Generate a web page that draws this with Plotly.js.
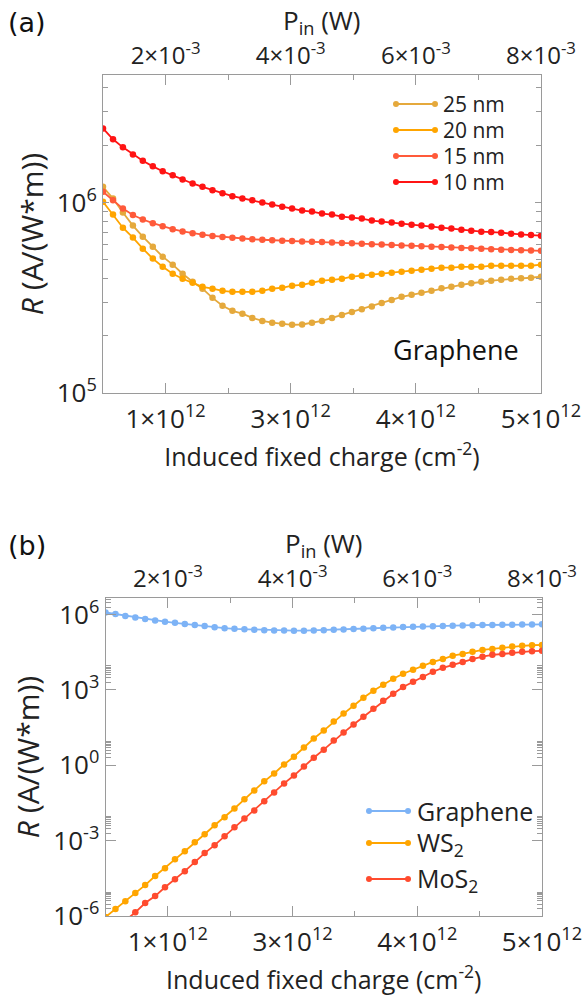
<!DOCTYPE html>
<html><head><meta charset="utf-8">
<script src="https://cdn.plot.ly/plotly-3.0.1.min.js"></script>
<style>html,body{margin:0;padding:0;background:#fff}#chart{width:583px;height:996px}</style>
</head><body><div id="chart"></div>
<script>
// Induced fixed charge, in units of 1e12 cm^-2
const chargeE12 = [1.500,1.580,1.659,1.739,1.818,1.898,1.977,2.057,2.136,2.216,2.295,2.375,2.455,2.534,2.614,2.693,2.773,2.852,2.932,3.011,3.091,3.170,3.250,3.330,3.409,3.489,3.568,3.648,3.727,3.807,3.886,3.966,4.045,4.125,4.205,4.284,4.364,4.443,4.523,4.602,4.682,4.761,4.841,4.920,5.000];

// Panel (a): graphene responsivity vs thickness
const r25nm = [1.21e6,1.05e6,8.86e5,7.57e5,6.62e5,5.87e5,5.20e5,4.72e5,4.23e5,3.84e5,3.53e5,3.16e5,2.87e5,2.70e5,2.61e5,2.48e5,2.39e5,2.34e5,2.31e5,2.28e5,2.29e5,2.34e5,2.39e5,2.48e5,2.57e5,2.66e5,2.75e5,2.85e5,2.97e5,3.08e5,3.20e5,3.28e5,3.36e5,3.44e5,3.55e5,3.61e5,3.70e5,3.77e5,3.84e5,3.89e5,3.93e5,3.98e5,4.00e5,4.03e5,4.08e5];
const r20nm = [1.01e6,8.65e5,7.38e5,6.55e5,5.73e5,5.08e5,4.60e5,4.23e5,3.98e5,3.79e5,3.61e5,3.53e5,3.44e5,3.40e5,3.40e5,3.40e5,3.44e5,3.53e5,3.57e5,3.66e5,3.70e5,3.79e5,3.89e5,3.93e5,3.98e5,4.08e5,4.13e5,4.18e5,4.23e5,4.28e5,4.33e5,4.39e5,4.44e5,4.49e5,4.55e5,4.55e5,4.60e5,4.60e5,4.60e5,4.66e5,4.66e5,4.66e5,4.66e5,4.66e5,4.72e5];
const r15nm = [1.14e6,1.03e6,9.30e5,8.60e5,8.15e5,7.80e5,7.50e5,7.25e5,7.05e5,6.90e5,6.78e5,6.68e5,6.60e5,6.53e5,6.47e5,6.42e5,6.38e5,6.34e5,6.31e5,6.28e5,6.25e5,6.22e5,6.20e5,6.17e5,6.14e5,6.11e5,6.08e5,6.05e5,6.02e5,5.99e5,5.96e5,5.93e5,5.90e5,5.87e5,5.84e5,5.81e5,5.78e5,5.75e5,5.72e5,5.69e5,5.66e5,5.64e5,5.62e5,5.60e5,5.58e5];
const r10nm = [2.45e6,2.15e6,1.95e6,1.79e6,1.66e6,1.55e6,1.46e6,1.39e6,1.32e6,1.26e6,1.21e6,1.16e6,1.12e6,1.08e6,1.05e6,1.03e6,1.00e6,9.76e5,9.52e5,9.30e5,9.08e5,8.97e5,8.75e5,8.65e5,8.43e5,8.34e5,8.24e5,8.04e5,7.95e5,7.85e5,7.75e5,7.66e5,7.57e5,7.48e5,7.38e5,7.30e5,7.21e5,7.12e5,7.03e5,7.00e5,6.95e5,6.87e5,6.79e5,6.75e5,6.70e5];

// Panel (b): materials
const rGraphene = r25nm;
const rWS2 = [9.1e-7,1.9e-6,3.9e-6,8.2e-6,1.7e-5,3.9e-5,8.0e-5,1.8e-4,3.8e-4,8.7e-4,1.8e-3,4.1e-3,8.5e-3,1.9e-2,4.4e-2,0.10,0.23,0.47,1.08,2.2,5.1,11.6,24,55,114,236,490,930,1.6e3,2.8e3,4.4e3,6.3e3,9.1e3,1.3e4,1.7e4,2.3e4,2.7e4,3.3e4,3.9e4,4.3e4,4.8e4,5.3e4,5.7e4,6.0e4,6.2e4];
const rMoS2 = [1.5e-7,3.0e-7,6.6e-7,1.4e-6,3.3e-6,6.2e-6,1.4e-5,2.9e-5,6.1e-5,1.4e-4,3.2e-4,6.6e-4,1.5e-3,3.4e-3,7.7e-3,1.6e-2,3.7e-2,8.3e-2,0.19,0.39,0.90,2.0,4.2,9.6,20,42,86,180,373,707,1.3e3,2.1e3,3.3e3,5.3e3,7.6e3,1.0e4,1.3e4,1.7e4,2.1e4,2.5e4,2.7e4,3.0e4,3.3e4,3.5e4,3.6e4];

const thicknessNames = ['25 nm','20 nm','15 nm','10 nm'];
const thicknessSeries = [r25nm, r20nm, r15nm, r10nm];
const thicknessColors = ['#E5A93C','#FFA500','#FF5A3A','#FF1414'];
const materialNames = ['Graphene','WS<sub>2</sub>','MoS<sub>2</sub>'];
const materialSeries = [rGraphene, rWS2, rMoS2];
const materialColors = ['#7DB3F6','#FFA500','#FF4B2E'];

const chargeTickVals = [2,3,4,5];
const chargeTickText = ['1×10<sup>12</sup>','3×10<sup>12</sup>','4×10<sup>12</sup>','5×10<sup>12</sup>'];
const powerTickVals = [0.002,0.004,0.006,0.008];
const powerTickText = ['2×10<sup>-3</sup>','4×10<sup>-3</sup>','6×10<sup>-3</sup>','8×10<sup>-3</sup>'];
const aTickVals = [1e5,1e6];
const aTickText = ['10<sup>5</sup>','10<sup>6</sup>'];
const bTickVals = [1e-6,1e-3,1,1e3,1e6];
const bTickText = ['10<sup>-6</sup>','10<sup>-3</sup>','10<sup>0</sup>','10<sup>3</sup>','10<sup>6</sup>'];
const powerTitle = 'P<sub>in</sub> (W)';

const W = 583, H = 996;
const px = v => v / W, py = v => 1 - v / H;
const FONT = 'Open Sans, Noto Sans, sans-serif';
const TXT = '#222';
const AX = '#9a9a9a';
const TICKFS = 26;
const TOPTICKFS = 24;

const aMinor = [];
[1e5,1e6].forEach(d => { for (let k = 2; k <= 9; k++) aMinor.push(k*d); });
const bMinor = [];
[1e-6,1e-3,1,1e3,1e6].forEach(d => { for (let k = 2; k <= 9; k++) bMinor.push(k*d); });

const traces = [];
thicknessSeries.forEach((s, i) => traces.push({
  x: chargeE12, y: s, xaxis: 'x', yaxis: 'y', type: 'scatter', mode: 'lines+markers',
  name: thicknessNames[i], showlegend: false,
  line: {color: thicknessColors[i], width: 1.8}, marker: {color: thicknessColors[i], size: 6.5}
}));
materialSeries.forEach((s, i) => traces.push({
  x: chargeE12, y: s, xaxis: 'x3', yaxis: 'y3', type: 'scatter', mode: 'lines+markers',
  name: materialNames[i], showlegend: false,
  line: {color: materialColors[i], width: 1.8}, marker: {color: materialColors[i], size: 6.5}
}));
// empty traces so the top (P_in) axes get their own subplots
traces.push({x: [], y: [], xaxis: 'x2', yaxis: 'y', type: 'scatter', mode: 'lines', showlegend: false, hoverinfo: 'skip'});
traces.push({x: [], y: [], xaxis: 'x4', yaxis: 'y3', type: 'scatter', mode: 'lines', showlegend: false, hoverinfo: 'skip'});

function xBottom(domain, anchor) {
  return {
    domain, anchor, range: [1.5, 5], type: 'linear',
    tickmode: 'array', tickvals: chargeTickVals, ticktext: chargeTickText,
    ticks: 'inside', ticklen: 10, tickwidth: 1, tickcolor: AX, ticklabelstandoff: 3,
    minor: {tickmode: 'array', tickvals: [2.5,3.5,4.5], ticks: 'inside', ticklen: 5, tickcolor: AX, tickwidth: 1},
    showline: true, linecolor: AX, linewidth: 1, mirror: false, showgrid: false, zeroline: false,
    tickfont: {size: TICKFS, color: TXT, family: FONT}, automargin: false,
    title: {text: 'Induced fixed charge (cm<sup>-2</sup>)', font: {size: 25, color: TXT, family: FONT}, standoff: 9}
  };
}
function xTop(over, anchor) {
  return {
    overlaying: over, anchor, side: 'top', range: [0.001, 0.008], type: 'linear',
    tickmode: 'array', tickvals: powerTickVals, ticktext: powerTickText,
    ticks: 'inside', ticklen: 10, tickwidth: 1, tickcolor: AX,
    minor: {tickmode: 'array', tickvals: [0.003,0.005,0.007], ticks: 'inside', ticklen: 5, tickcolor: AX, tickwidth: 1},
    showline: true, linecolor: AX, linewidth: 1, showgrid: false, zeroline: false,
    tickfont: {size: TOPTICKFS, color: TXT, family: FONT}, automargin: false
  };
}
function yLog(domain, anchor, range, tv, tt, minor, majLen) {
  return {
    domain, anchor, type: 'log', range,
    tickmode: 'array', tickvals: tv, ticktext: tt,
    ticks: 'inside', ticklen: majLen, tickwidth: 1, tickcolor: AX,
    minor: {tickmode: 'array', tickvals: minor, ticks: 'inside', ticklen: 5, tickcolor: AX, tickwidth: 1},
    showline: true, linecolor: AX, linewidth: 1, mirror: 'ticks', showgrid: false, zeroline: false,
    tickfont: {size: TICKFS, color: TXT, family: FONT}, automargin: false,
    title: {text: '<i>R</i> (A/(W*m))', font: {size: 30, color: TXT, family: FONT}, standoff: 4}
  };
}

const annotations = [
  {text: '(a)', x: px(6), y: py(23), xref: 'paper', yref: 'paper', xanchor: 'left', yanchor: 'middle', showarrow: false, font: {size: 27, color: '#111', family: 'DejaVu Sans'}},
  {text: '(b)', x: px(6), y: py(545), xref: 'paper', yref: 'paper', xanchor: 'left', yanchor: 'middle', showarrow: false, font: {size: 27, color: '#111', family: 'DejaVu Sans'}},
  {text: powerTitle, x: px(322), y: py(0), xref: 'paper', yref: 'paper', xanchor: 'center', yanchor: 'top', showarrow: false, font: {size: 26, color: TXT, family: FONT}},
  {text: powerTitle, x: px(324), y: py(523), xref: 'paper', yref: 'paper', xanchor: 'center', yanchor: 'top', showarrow: false, font: {size: 26, color: TXT, family: FONT}},
  {text: 'Graphene', x: px(456), y: py(349), xref: 'paper', yref: 'paper', xanchor: 'center', yanchor: 'middle', showarrow: false, font: {size: 27, color: '#111', family: FONT}}
];
const shapes = [];
function legendEntry(name, color, yRow, xLine0, xLine1, xText, fs) {
  shapes.push({type: 'line', xref: 'paper', yref: 'paper', x0: px(xLine0), x1: px(xLine1), y0: py(yRow), y1: py(yRow), line: {color, width: 1.8}});
  [xLine0, xLine1].forEach(xc => shapes.push({type: 'circle', xref: 'paper', yref: 'paper', xsizemode: 'pixel', ysizemode: 'pixel',
    xanchor: px(xc), yanchor: py(yRow), x0: -3, x1: 3, y0: -3, y1: 3, fillcolor: color, line: {width: 0}}));
  annotations.push({text: name, x: px(xText), y: py(yRow), xref: 'paper', yref: 'paper', xanchor: 'left', yanchor: 'middle',
    showarrow: false, font: {size: fs, color: TXT, family: FONT}});
}
const aRows = [104, 130, 156, 182];
thicknessNames.forEach((n, i) => legendEntry(n, thicknessColors[i], aRows[i], 396, 435, 441, 21));
const bRows = [811, 843, 879];
materialNames.forEach((n, i) => legendEntry(n, materialColors[i], bRows[i], 369, 408, 415, 25));

const layout = {
  width: W, height: H, margin: {l: 0, r: 0, t: 0, b: 0},
  paper_bgcolor: '#fff', plot_bgcolor: '#fff', showlegend: false,
  font: {family: FONT, color: TXT},
  xaxis: xBottom([px(103), px(541)], 'y'),
  xaxis2: xTop('x', 'y'),
  yaxis: yLog([1 - 393/H, 1 - 75/H], 'x', [5, 6.67], aTickVals, aTickText, aMinor, 6),
  xaxis3: xBottom([px(105.5), px(542)], 'y3'),
  xaxis4: xTop('x3', 'y3'),
  yaxis3: yLog([1 - 916/H, 1 - 598/H], 'x3', [-6, 6.66], bTickVals, bTickText, bMinor, 10),
  annotations, shapes
};
Plotly.newPlot('chart', traces, layout, {staticPlot: true, displayModeBar: false});
</script></body></html>
